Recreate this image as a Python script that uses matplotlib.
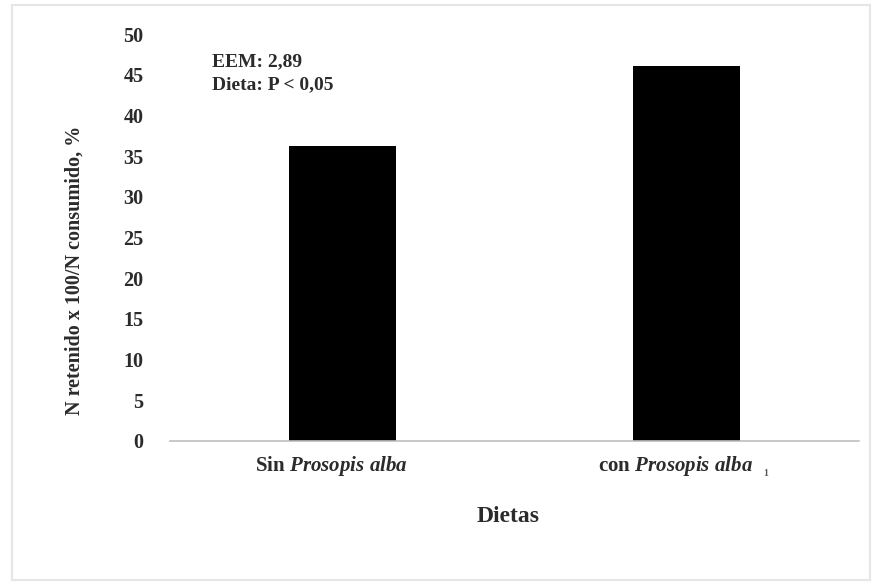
import matplotlib
matplotlib.use("Agg")
import matplotlib.pyplot as plt
import matplotlib.transforms as mtransforms
from matplotlib.patches import Rectangle

categories = [r"$\mathrm{Sin}\ \mathit{Prosopis\ alba}$", r"$\mathrm{con}\ \mathit{Prosopis\ alba}$"]
values = [36.2, 46.1]
yticks = list(range(0, 51, 5))

plt.rcParams['font.family'] = ['Liberation Serif', 'DejaVu Serif']
plt.rcParams['font.weight'] = 'bold'
plt.rcParams['mathtext.fontset'] = 'custom'
plt.rcParams['mathtext.rm'] = 'Liberation Serif:bold'
plt.rcParams['mathtext.it'] = 'Liberation Serif:italic:bold'
plt.rcParams['mathtext.bf'] = 'Liberation Serif:bold'

txt = '#2b2b2b'
fig = plt.figure(figsize=(8.75, 5.85), dpi=100)
fig.patches.append(Rectangle((12/875, 5/585), 858/875, 575/585, transform=fig.transFigure,
                             fill=False, edgecolor='#e6e6e6', linewidth=1.5))
ax = fig.add_axes([170/875, 1-441/585, 689/875, 407/585])

x = list(range(len(categories)))
ax.bar(x, values, width=0.31, color='black')
ax.set_xlim(-0.5, 1.5)
ax.set_ylim(0, 50)
ax.set_yticks(yticks)
ax.set_yticklabels([str(t) for t in yticks], fontsize=14.5, fontweight='bold', color=txt)
ax.tick_params(axis='y', length=0, pad=19)
ax.tick_params(axis='x', length=0, pad=9)
ax.set_xticks(x)
ax.set_xticklabels(categories, fontsize=15, color=txt)
offset = mtransforms.ScaledTranslation(-11/100, 0, fig.dpi_scale_trans)
for lbl in ax.get_xticklabels():
    lbl.set_transform(lbl.get_transform() + offset)

for s in ['top', 'right', 'left']:
    ax.spines[s].set_visible(False)
ax.spines['bottom'].set_color('#bfbfbf')
ax.spines['bottom'].set_linewidth(1.2)

fig.text(766/875, 1-473/585, '1', fontsize=7, color='#555555', ha='center', va='center')

fig.text(75/875, 1-270/585, 'N retenido x 100/N consumido, %', fontsize=14.5, fontweight='bold',
         color=txt, rotation=90, ha='center', va='center')
fig.text(508/875, 1-517/585, 'Dietas', fontsize=17, fontweight='bold', color=txt, ha='center', va='center')

fig.text(212/875, 1-62/585, 'EEM: 2,89', fontsize=14, fontweight='bold', color=txt, ha='left', va='center')
fig.text(212/875, 1-85/585, 'Dieta: P < 0,05', fontsize=14, fontweight='bold', color=txt, ha='left', va='center')

fig.savefig('out.png', dpi=100)
